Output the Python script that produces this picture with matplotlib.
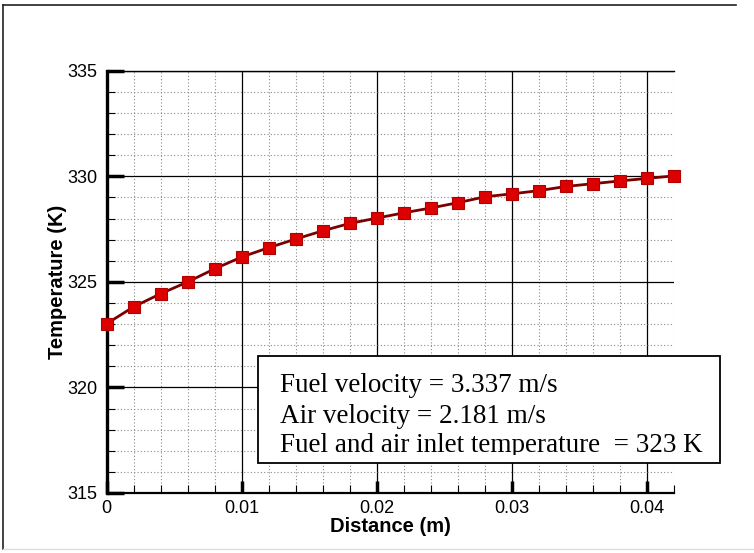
import matplotlib
matplotlib.use("Agg")
import matplotlib.pyplot as plt
from matplotlib.ticker import MultipleLocator, FixedLocator
from matplotlib.lines import Line2D
from matplotlib.patches import Rectangle

# ---- data ----
distance = [0.000, 0.002, 0.004, 0.006, 0.008, 0.010, 0.012, 0.014, 0.016, 0.018, 0.020,
            0.022, 0.024, 0.026, 0.028, 0.030, 0.032, 0.034, 0.036, 0.038, 0.040, 0.042]
temperature = [323.02, 323.82, 324.44, 325.00, 325.62, 326.18, 326.62, 327.03, 327.42, 327.77, 328.02,
               328.27, 328.50, 328.75, 329.03, 329.17, 329.32, 329.52, 329.65, 329.78, 329.90, 330.02]
x_ticks = [0, 0.01, 0.02, 0.03, 0.04]
x_tick_labels = ["0", "0.01", "0.02", "0.03", "0.04"]
y_ticks = [315, 320, 325, 330, 335]
y_tick_labels = ["315", "320", "325", "330", "335"]
info_lines = ["Fuel velocity = 3.337 m/s",
              "Air velocity = 2.181 m/s",
              "Fuel and air inlet temperature  = 323 K"]

W, H = 754, 553
fig = plt.figure(figsize=(W / 100, H / 100), dpi=100)
plt.rcParams['font.family'] = ['Liberation Sans', 'DejaVu Sans']

def fx(px):
    return px / W

def fy(py):
    return 1 - py / H

# axes: left 106.7, right 674.3, top 70.7, bottom 493
ax = fig.add_axes([fx(106.7), fy(493), (674.3 - 106.7) / W, (493 - 70.7) / H])
ax.set_xlim(0, 0.042)
ax.set_ylim(315, 335)

ax.set_xticks(x_ticks)
ax.set_xticklabels(x_tick_labels)
ax.xaxis.set_minor_locator(MultipleLocator(0.002))
ax.set_yticks(y_ticks)
ax.set_yticklabels(y_tick_labels)
ax.yaxis.set_minor_locator(MultipleLocator(1))

ax.grid(which='major', color='black', linewidth=0.9, linestyle='-')
ax.grid(which='minor', color='#8a8a8a', linewidth=0.8, linestyle=(0, (1, 2)))
ax.set_axisbelow(True)

ax.tick_params(axis='y', which='major', direction='in', length=12, width=2.5, labelsize=13, pad=7)
ax.tick_params(axis='y', which='minor', direction='in', length=6, width=0.8)
ax.tick_params(axis='x', which='major', direction='in', length=9, width=2.5, labelsize=13, pad=5)
ax.tick_params(axis='x', which='minor', direction='in', length=6, width=0.8)

ax.spines['left'].set_linewidth(2.4)
ax.spines['bottom'].set_linewidth(1.6)
ax.spines['top'].set_linewidth(1.0)
ax.spines['right'].set_visible(False)

ax.plot(distance, temperature, color='#7a0000', linewidth=2.0, marker='s',
        markersize=8.5, markerfacecolor='#dd0000', markeredgecolor='#b00000',
        markeredgewidth=0.8, clip_on=False, zorder=5)

ax.set_xlabel("Distance (m)", fontsize=14.5, fontweight='bold', labelpad=0)
ax.set_ylabel("Temperature (K)", fontsize=14.5, fontweight='bold', labelpad=0)

# info box (figure pixel coords)
bx0, by0, bx1, by1 = 258, 356, 720, 463
rect = Rectangle((fx(bx0), fy(by1)), (bx1 - bx0) / W, (by1 - by0) / H,
                 transform=fig.transFigure, facecolor='white', edgecolor='black',
                 linewidth=1.3, zorder=10)
fig.patches.append(rect)
clip = Rectangle((fx(bx0), fy(455)), (bx1 - bx0) / W, (455 - by0) / H,
                 transform=fig.transFigure, facecolor='none', edgecolor='none')
fig.patches.append(clip)
baselines = [392, 423, 452]
for line, b in zip(info_lines, baselines):
    t = fig.text(fx(280), fy(b), line, fontsize=19.5, family=['Liberation Serif', 'DejaVu Serif'],
                 ha='left', va='baseline', zorder=11)
    t.set_clip_path(clip)

# outer frame
fig.add_artist(Line2D([fx(3), fx(736)], [fy(5), fy(5)], color='#222222', linewidth=1.2,
                      transform=fig.transFigure))
fig.add_artist(Line2D([fx(3), fx(3)], [fy(5), fy(549)], color='#222222', linewidth=1.2,
                      transform=fig.transFigure))
fig.add_artist(Line2D([fx(3), fx(754)], [fy(549), fy(549)], color='#dddddd', linewidth=1.0,
                      transform=fig.transFigure))

fig.savefig("out.png", dpi=100)
